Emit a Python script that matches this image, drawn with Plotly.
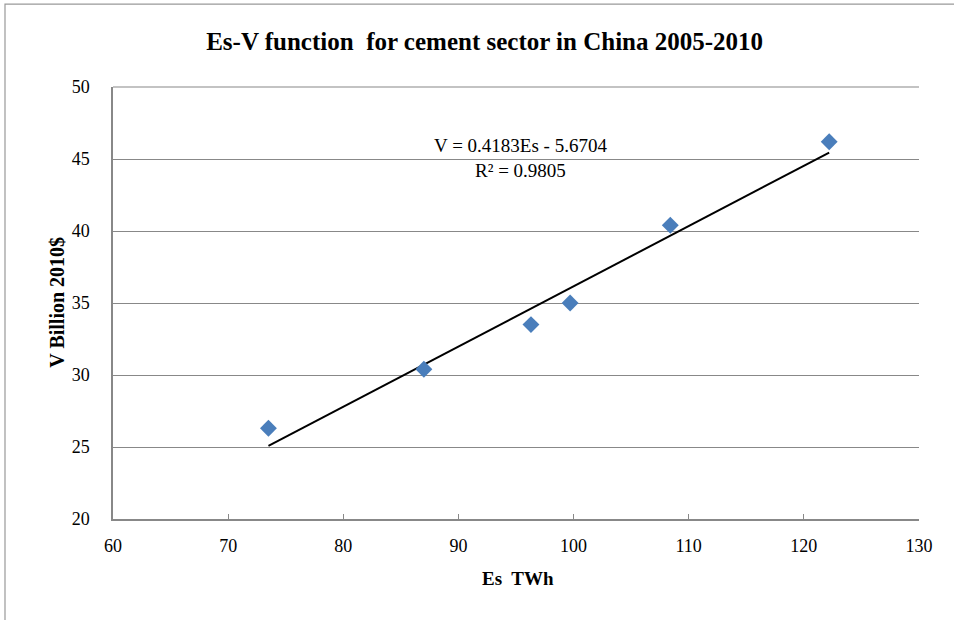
import plotly.graph_objects as go

# Data
es_twh = [73.5, 87.0, 96.3, 99.7, 108.4, 122.2]
v_billion = [26.3, 30.4, 33.5, 35.0, 40.4, 46.2]

# Linear trendline coefficients shown on the chart
slope = 0.4183
intercept = -5.6704
r_squared = 0.9805

x_ticks = [60, 70, 80, 90, 100, 110, 120, 130]
y_ticks = [20, 25, 30, 35, 40, 45, 50]

trend_x = [min(es_twh), max(es_twh)]
trend_y = [slope * x + intercept for x in trend_x]

serif = "Liberation Serif, Times New Roman, serif"

fig = go.Figure()
fig.add_trace(go.Scatter(
    x=trend_x, y=trend_y, mode="lines",
    line=dict(color="black", width=2), hoverinfo="skip", showlegend=False,
))
fig.add_trace(go.Scatter(
    x=es_twh, y=v_billion, mode="markers",
    marker=dict(symbol="diamond", size=13, color="#4A7EBB"),
    showlegend=False,
))

fig.add_annotation(
    x=0.506, y=0.836, xref="paper", yref="paper", xanchor="center", yanchor="middle",
    text=f"V = {slope}Es - {abs(intercept)}<br>R² = {r_squared}",
    showarrow=False, font=dict(family=serif, size=19, color="black"), align="center",
)
fig.add_annotation(
    x=0.502, y=-0.137, xref="paper", yref="paper", xanchor="center", yanchor="middle",
    text="<b>Es  TWh</b>", showarrow=False, font=dict(family=serif, size=19, color="black"),
)
fig.add_annotation(
    x=-0.0695, y=0.503, xref="paper", yref="paper", xanchor="center", yanchor="middle",
    text="<b>V Billion 2010$</b>", textangle=-90, showarrow=False,
    font=dict(family=serif, size=20, color="black"),
)

fig.update_layout(
    width=954, height=620,
    margin=dict(l=113, r=35, t=87, b=101),
    paper_bgcolor="white", plot_bgcolor="white",
    title=dict(
        text="<b>Es-V function  for cement sector in China 2005-2010</b>",
        x=0.508, xanchor="center", y=0.934, yanchor="middle",
        font=dict(family=serif, size=25, color="black"),
    ),
    xaxis=dict(
        range=[60, 130], tickvals=x_ticks, ticks="inside", ticklen=5, tickcolor="#888888",
        showgrid=False, showline=True, linecolor="#888888", linewidth=1.5,
        tickfont=dict(family=serif, size=18, color="black"), zeroline=False,
        ticklabelstandoff=10,
    ),
    yaxis=dict(
        range=[20, 50], tickvals=y_ticks, showgrid=True, gridcolor="#888888", gridwidth=1.2,
        showline=True, linecolor="#888888", linewidth=1.5, zeroline=False,
        tickfont=dict(family=serif, size=18, color="black"), ticks="", ticklabelstandoff=18,
    ),
    shapes=[
        dict(type="rect", xref="paper", yref="paper", x0=-0.134, x1=1.6, y0=-0.6, y1=1.192,
             line=dict(color="#999999", width=1.2), fillcolor="rgba(0,0,0,0)", layer="below"),
        dict(type="line", xref="paper", yref="paper", x0=0, x1=1, y0=1, y1=1,
             line=dict(color="#888888", width=1.2)),
    ],
)

fig.write_html("out.html", config={"displayModeBar": False},
               post_script="document.body.style.margin='0';")
